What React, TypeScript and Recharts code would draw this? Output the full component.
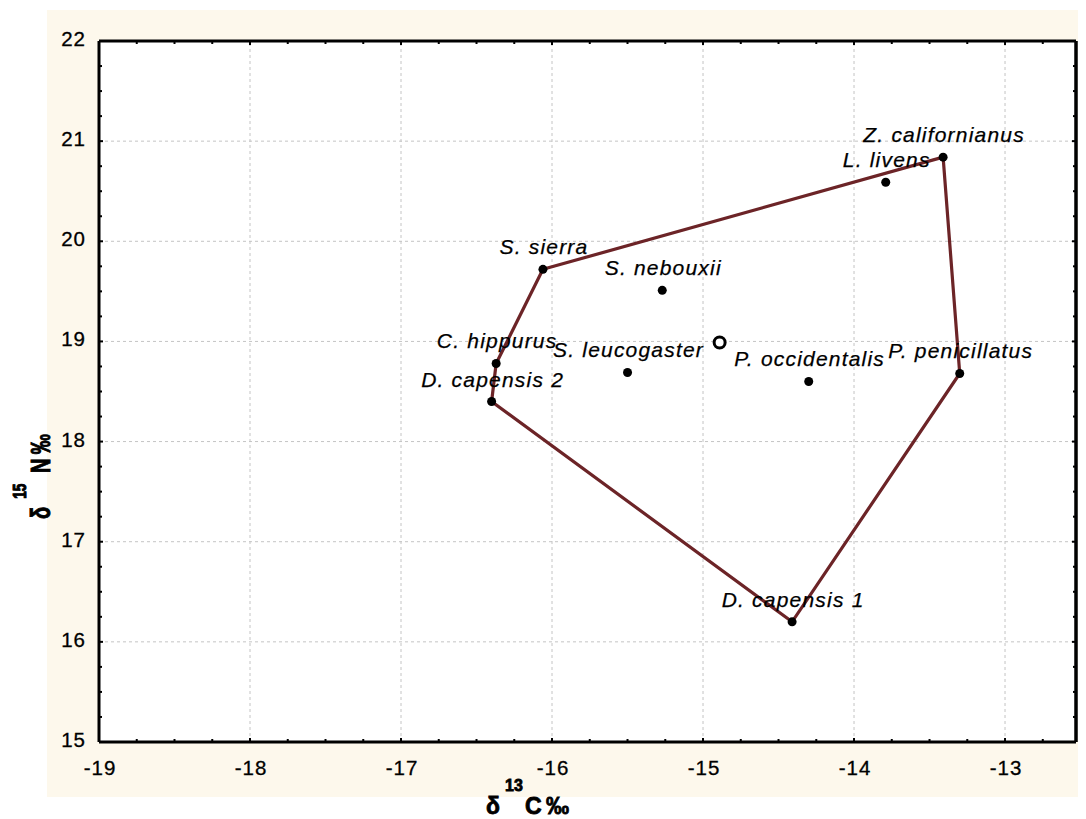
import React from 'react';
import { ScatterChart, Scatter, XAxis, YAxis, CartesianGrid, ReferenceLine } from 'recharts';

// species means
const species = [
  'Z. californianus',
  'L. livens',
  'S. sierra',
  'S. nebouxii',
  'C. hippurus',
  'S. leucogaster',
  'P. occidentalis',
  'P. penicillatus',
  'D. capensis 2',
  'D. capensis 1',
];
const d13C = [-13.41, -13.79, -16.06, -15.27, -16.37, -15.5, -14.3, -13.3, -16.4, -14.41];
const d15N = [20.84, 20.59, 19.72, 19.51, 18.78, 18.69, 18.6, 18.68, 18.4, 16.2];

// community centroid (open circle)
const centroidC = [-14.89];
const centroidN = [18.99];

// convex hull, in drawing order
const hullOrder = ['S. sierra', 'Z. californianus', 'P. penicillatus', 'D. capensis 1', 'D. capensis 2', 'C. hippurus', 'S. sierra'];

const xMajor = [-19, -18, -17, -16, -15, -14, -13];
const yMajor = [15, 16, 17, 18, 19, 20, 21, 22];
const xDomain = [-19, -12.53];
const yDomain = [15, 22];

const quarterTicks = (lo: number, hi: number) => {
  const out: number[] = [];
  for (let v = lo; v <= hi + 1e-9; v += 0.25) out.push(Math.round(v * 100) / 100);
  return out;
};
const xTicks = quarterTicks(xDomain[0], xDomain[1]);
const yTicks = quarterTicks(yDomain[0], yDomain[1]);

const points = species.map((name, i) => ({ name, x: d13C[i], y: d15N[i] }));
const hull = hullOrder.map((n) => points.find((p) => p.name === n)!);
const centroid = centroidC.map((x, i) => ({ x, y: centroidN[i] }));

const FONT = '"Liberation Sans", Arial, sans-serif';
const HULL = '#6c2427';
const FRAME = { stroke: '#000', strokeWidth: 3 };

const BottomTick = ({ x, y, payload }: any) => {
  const major = Number.isInteger(payload.value);
  return (
    <g>
      <line x1={x} x2={x} y1={y} y2={y - (major ? 4 : 3)} stroke="#000" strokeWidth={2} />
      {major && (
        <text x={x + 1} y={y + 33} textAnchor="middle" fontFamily={FONT} fontSize={20.5} letterSpacing={1} fill="#000" stroke="#000" strokeWidth={0.3}>
          {payload.value}
        </text>
      )}
    </g>
  );
};

const TopTick = ({ x, y, payload }: any) => {
  const major = Number.isInteger(payload.value);
  return <line x1={x} x2={x} y1={y} y2={y + (major ? 4 : 3)} stroke="#000" strokeWidth={2} />;
};

const LeftTick = ({ x, y, payload }: any) => {
  const major = Number.isInteger(payload.value);
  return (
    <g>
      <line x1={x} x2={x + (major ? 4 : 3)} y1={y} y2={y} stroke="#000" strokeWidth={2} />
      {major && (
        <text x={x - 13} y={y + 5} textAnchor="end" fontFamily={FONT} fontSize={20.5} letterSpacing={1} fill="#000" stroke="#000" strokeWidth={0.3}>
          {payload.value}
        </text>
      )}
    </g>
  );
};

const RightTick = ({ x, y, payload }: any) => {
  const major = Number.isInteger(payload.value);
  return <line x1={x} x2={x - (major ? 4 : 3)} y1={y} y2={y} stroke="#000" strokeWidth={2} />;
};

const SpeciesDot = ({ cx, cy, payload }: any) => (
  <g>
    <circle cx={cx} cy={cy} r={4.5} fill="#000" />
    <text
      x={cx + 1}
      y={cy - 15}
      textAnchor="middle"
      fontFamily={FONT}
      fontStyle="italic"
      fontSize={21}
      letterSpacing={1.2}
      fill="#000"
      stroke="#000"
      strokeWidth={0.25}
    >
      {payload.name}
    </text>
  </g>
);

const CentroidDot = ({ cx, cy }: any) => (
  <circle cx={cx} cy={cy} r={5.5} fill="#fff" stroke="#000" strokeWidth={3} />
);

const XTitle = () => (
  <text fontFamily={FONT} fontWeight="bold" fontSize={23} fill="#000" stroke="#000" strokeWidth={0.8}>
    <tspan x={478} y={806}>δ</tspan>
    <tspan x={497} y={783} fontSize={16}>13</tspan>
    <tspan x={517} y={806}>C</tspan>
    <tspan x={538} y={806} letterSpacing={1}>‰</tspan>
  </text>
);

const YTitle = () => (
  <g transform="translate(42,511) rotate(-90) scale(0.72,1)">
    <text fontFamily={FONT} fontWeight="bold" fontSize={28} fill="#000" stroke="#000" strokeWidth={1}>
      <tspan x={0} y={0}>δ</tspan>
      <tspan x={28} y={-24} fontSize={19}>15</tspan>
      <tspan x={64} y={0}>N</tspan>
      <tspan x={90} y={0} letterSpacing={1}>‰</tspan>
    </text>
  </g>
);

const App = () => {
  // the page keeps its 8px body margin, so the chart fills the 1070x811 area inside it
  return (
    <div style={{ position: 'relative', width: 1070, height: 811, background: '#fff' }}>
      <div style={{ position: 'absolute', left: 39, top: 2, width: 1031, height: 787, background: '#fdf8ec' }} />
      <div style={{ position: 'absolute', left: 0, top: 0 }}>
        <ScatterChart width={1070} height={811} margin={{ top: 32, right: 0, bottom: 37, left: 31 }}>
          <CartesianGrid fill="#fff" horizontal={false} vertical={false} />
          <XAxis
            xAxisId={0}
            dataKey="x"
            type="number"
            domain={xDomain}
            ticks={xTicks}
            interval={0}
            height={40}
            tickSize={0}
            tickMargin={0}
            tickLine={false}
            tick={<BottomTick />}
            axisLine={FRAME}
            allowDataOverflow
            label={{ content: () => <XTitle /> }}
          />
          <XAxis
            xAxisId="top"
            dataKey="x"
            orientation="top"
            type="number"
            domain={xDomain}
            ticks={xTicks}
            interval={0}
            height={1}
            tickSize={0}
            tickMargin={0}
            tickLine={false}
            tick={<TopTick />}
            axisLine={FRAME}
            allowDataOverflow
          />
          <YAxis
            yAxisId={0}
            dataKey="y"
            type="number"
            domain={yDomain}
            ticks={yTicks}
            interval={0}
            width={60}
            tickSize={0}
            tickMargin={0}
            tickLine={false}
            tick={<LeftTick />}
            axisLine={FRAME}
            allowDataOverflow
            label={{ content: () => <YTitle /> }}
          />
          <YAxis
            yAxisId="right"
            dataKey="y"
            orientation="right"
            type="number"
            domain={yDomain}
            ticks={yTicks}
            interval={0}
            width={2}
            tickSize={0}
            tickMargin={0}
            tickLine={false}
            tick={<RightTick />}
            axisLine={FRAME}
            allowDataOverflow
          />
          {xMajor.slice(1).map((v) => (
            <ReferenceLine key={'vx' + v} x={v} stroke="#c4c4c4" strokeDasharray="3 3" strokeWidth={1} />
          ))}
          {yMajor.slice(1, -1).map((v) => (
            <ReferenceLine key={'hy' + v} y={v} stroke="#c4c4c4" strokeDasharray="3 3" strokeWidth={1} />
          ))}
          {/* right edge of the frame */}
          <ReferenceLine x={xDomain[1]} stroke="#000" strokeWidth={3} />
          {/* invisible copy so the top/right frame axes get drawn */}
          <Scatter xAxisId="top" yAxisId="right" data={points} shape={() => <g />} isAnimationActive={false} />
          <Scatter
            data={hull}
            line={{ stroke: HULL, strokeWidth: 3.2 }}
            lineType="joint"
            shape={() => <g />}
            isAnimationActive={false}
          />
          <Scatter data={points} shape={<SpeciesDot />} isAnimationActive={false} />
          <Scatter data={centroid} shape={<CentroidDot />} isAnimationActive={false} />
        </ScatterChart>
      </div>
    </div>
  );
};

export default App;
